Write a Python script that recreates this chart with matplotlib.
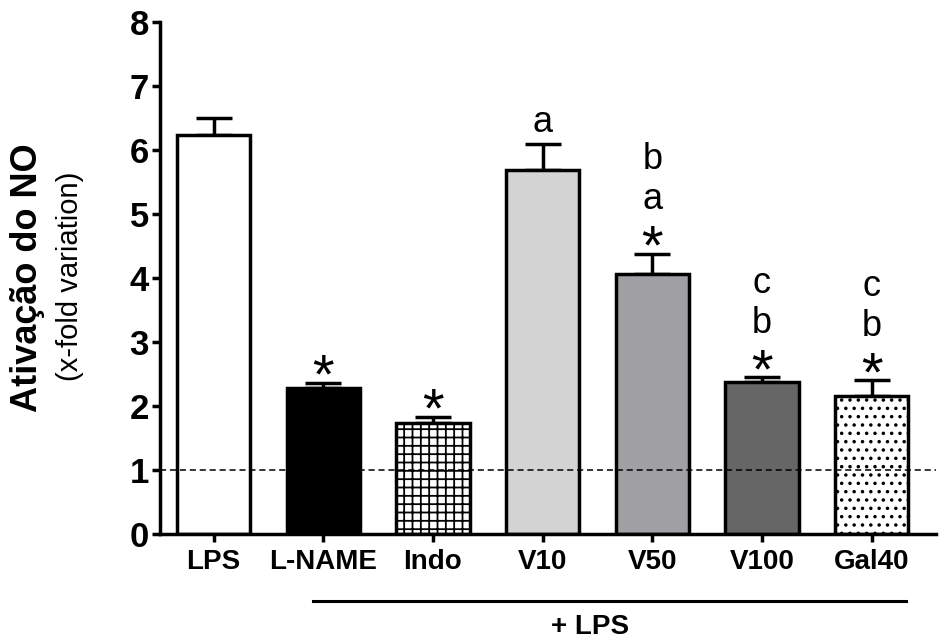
import matplotlib
matplotlib.use("Agg")
from matplotlib import pyplot as plt
import numpy as np

plt.rcParams['font.family'] = ['Liberation Sans', 'DejaVu Sans']
plt.rcParams['hatch.linewidth'] = 1.3

# data
groups = ['LPS', 'L-NAME', 'Indo', 'V10', 'V50', 'V100', 'Gal40']
means = [6.24, 2.28, 1.73, 5.69, 4.06, 2.37, 2.16]
sems = [0.26, 0.08, 0.10, 0.41, 0.32, 0.08, 0.24]
stars = [False, True, True, False, True, True, True]
letters = [[], [], [], ['a'], ['a', 'b'], ['b', 'c'], ['b', 'c']]

colors = ['white', 'black', 'white', '#d3d3d3', '#a0a0a4', '#666666', 'white']
hatches = [None, None, '++', None, None, None, '..']

fig = plt.figure(figsize=(9.41, 6.42), dpi=100)
ax = fig.add_axes([0.170, 0.168, 0.825, 0.798])

x = np.arange(len(groups))
for i in range(len(groups)):
    ax.bar(x[i], means[i], width=0.67, color=colors[i], edgecolor='black',
           linewidth=2.5, hatch=hatches[i], zorder=2)
    ax.errorbar(x[i], means[i], yerr=[[0], [sems[i]]], fmt='none',
                ecolor='black', elinewidth=2.5, capsize=13, capthick=2.5,
                zorder=1)

# significance marks
for i in range(len(groups)):
    top = means[i] + sems[i]
    off = 8
    if stars[i]:
        ax.annotate('*', xy=(x[i], top), xytext=(0, -7), textcoords='offset points',
                    ha='center', va='baseline', fontsize=40)
        off = 32
    for k, s in enumerate(letters[i]):
        ax.annotate(s, xy=(x[i], top), xytext=(0, off + 29 * k),
                    textcoords='offset points', ha='center', va='baseline',
                    fontsize=26)

ax.axhline(1, color='black', linestyle=(0, (4, 2.5)), linewidth=1.1, zorder=3)

ax.set_xlim(-0.49, 6.59)
ax.set_ylim(0, 8)
ax.set_yticks(range(0, 9))
ax.set_xticks(x)
ax.set_xticklabels(groups, fontsize=20, fontweight='bold')
for lab in ax.get_yticklabels():
    lab.set_fontsize(25)
    lab.set_fontweight('bold')
ax.tick_params(axis='both', width=2.5, length=6, direction='out', pad=2)
ax.tick_params(axis='x', pad=5)
for side in ['top', 'right']:
    ax.spines[side].set_visible(False)
for side in ['left', 'bottom']:
    ax.spines[side].set_linewidth(2.5)

# + LPS bracket
ax.plot([0.91, 6.31], [-0.131, -0.131], color='black', linewidth=2.2,
        transform=ax.get_xaxis_transform(), clip_on=False)
ax.text(3.43, -0.182, '+ LPS', transform=ax.get_xaxis_transform(),
        ha='center', va='center', fontsize=20, fontweight='bold')

fig.text(0.029, 0.567, 'Ativação do NO', rotation=90, ha='center', va='center',
         fontsize=26, fontweight='bold')
fig.text(0.074, 0.570, '(x-fold variation)', rotation=90, ha='center',
         va='center', fontsize=21)

fig.savefig('out.png', dpi=100)
